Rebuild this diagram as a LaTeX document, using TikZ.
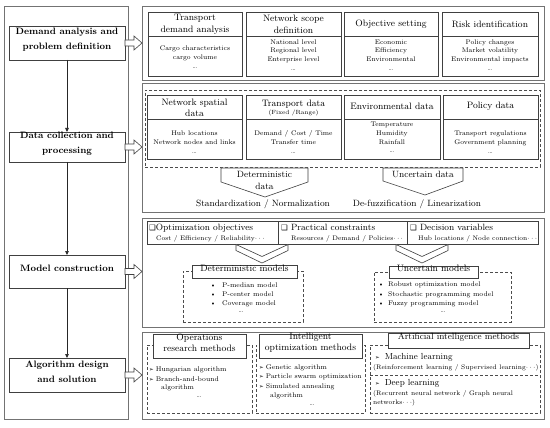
\documentclass[tikz,border=0pt]{standalone}
\usepackage{fontspec}
\newfontfamily\symfont{DejaVu Sans}
\usetikzlibrary{arrows.meta,calc,fit}
\newcommand\sqbox{{\symfont\fontsize{7.5}{8}\selectfont ❑}}
\newcommand\arrbul{{\symfont\fontsize{5.5}{6}\selectfont ➢}}
\tikzset{
  pnl/.style={draw=black!55, line width=0.8pt, inner sep=0pt, outer sep=0pt},
  lbox/.style={draw=black!75, line width=0.7pt, inner sep=0pt, outer sep=0pt, align=center,
    font=\fontsize{9.3}{14.5}\selectfont\bfseries},
  ibox/.style={draw=black!75, line width=0.6pt, inner sep=0pt, outer sep=0pt},
  sepline/.style={draw=black!75, line width=0.6pt},
  dbox/.style={draw=black!70, line width=0.6pt, dash pattern=on 3pt off 2pt, inner sep=0pt, outer sep=0pt},
  lab/.style={draw=black!75, fill=white, line width=0.6pt, inner sep=0pt, outer sep=0pt, align=center,
    font=\fontsize{9.3}{11.5}\selectfont},
  hd/.style={align=center, inner sep=0pt, font=\fontsize{9.3}{11.5}\selectfont},
  bd/.style={align=center, inner sep=0pt, font=\fontsize{6.7}{8.8}\selectfont},
  sm/.style={inner sep=0pt, anchor=west, font=\fontsize{6.6}{8.5}\selectfont},
  lst/.style={inner sep=0pt, anchor=west, font=\fontsize{6.8}{8.5}\selectfont},
  mid/.style={inner sep=0pt, font=\fontsize{9.1}{11}\selectfont},
  varr/.style={draw=black!85, line width=0.7pt, -{Triangle[length=4pt,width=3.5pt]}},
  blockarr/.style={draw=black!75, fill=white, line width=0.6pt, line join=miter},
  chev/.style={draw=black!75, fill=white, line width=0.6pt},
}
\begin{document}
\begin{tikzpicture}[x=1pt,y=-1pt]
\fill[white] (0,0) rectangle (550,428);
\useasboundingbox (0,0) rectangle (550,428);

% ---------- left column ----------
\node[pnl, fit={(4,6)(128,419)}] (LP) {};
\node[lbox, fit={(9,26)(125,60)}] (L1) {Demand analysis and\\problem definition};
\node[lbox, fit={(9,132)(125,162)}] (L2) {Data collection and\\processing};
\node[lbox, fit={(9,255)(125,288)}] (L3) {Model construction};
\node[lbox, fit={(9,358)(125,392)}] (L4) {Algorithm design\\and solution};
\draw[varr] (L1.south) -- (L2.north);
\draw[varr] (L2.south) -- (L3.north);
\draw[varr] (L3.south) -- (L4.north);

% ---------- right panels ----------
\node[pnl, fit={(142,6)(544,80)}] (P1) {};
\node[pnl, fit={(142,83)(544,212)}] (P2) {};
\node[pnl, fit={(142,218)(544,327)}] (P3) {};
\node[pnl, fit={(142,332)(544,419)}] (P4) {};

% block arrows
\foreach \L in {L1,L2,L3,L4}{
  \draw[blockarr] (\L.east) ++(0,-3) -- ++(9,0) -- ++(0,-4) -- ++(8,7) -- ++(-8,7) -- ++(0,-4) -- ++(-9,0) -- cycle;
}

% ---------- panel 1 ----------
\node[ibox, fit={(148,12)(242,76)}] (A1) {};
\node[ibox, fit={(246,12)(341,76)}] (A2) {};
\node[ibox, fit={(344,12)(438,76)}] (A3) {};
\node[ibox, fit={(442,12)(538,76)}] (A4) {};
\foreach \b in {A1,A2,A3,A4}{ \draw[sepline] (\b.west |- 0,36) -- (\b.east |- 0,36); }
\node[hd] (A1h) at (195,24.5) {Transport\\demand analysis};
\node[hd] (A2h) at (293.5,24.5) {Network scope\\definition};
\node[hd] (A3h) at (391,24) {Objective setting};
\node[hd] (A4h) at (490,24) {Risk identification};
\node[bd] (A1b) at (195,57) {Cargo characteristics\\cargo volume\\\dots};
\node[bd] (A2b) at (293.5,55) {National level\\Regional level\\Enterprise level\\\dots};
\node[bd] (A3b) at (391,55) {Economic\\Efficiency\\Environmental\\\dots};
\node[bd] (A4b) at (490,55) {Policy changes\\Market volatility\\Environmental impacts\\\dots};

% ---------- panel 2 ----------
\node[dbox, fit={(145,90)(540,167)}] (D0) {};
\node[ibox, fit={(147,95)(242,159)}] (B1) {};
\node[ibox, fit={(246,95)(341,159)}] (B2) {};
\node[ibox, fit={(344,95)(440,159)}] (B3) {};
\node[ibox, fit={(443,95)(538,159)}] (B4) {};
\foreach \b in {B1,B2,B3,B4}{ \draw[sepline] (\b.west |- 0,119) -- (\b.east |- 0,119); }
\node[hd] (B1h) at (194.5,108) {Network spatial\\data};
\node[hd] (B2h) at (293.5,104) {Transport data};
\node[inner sep=0pt, font=\fontsize{6}{7}\selectfont] (B2s) at (293.5,113.5) {(Fixed /Range)};
\node[hd] (B3h) at (392,106.5) {Environmental data};
\node[hd] (B4h) at (490.5,106.5) {Policy data};
\node[bd] (B1b) at (194.5,142) {Hub locations\\Network nodes and links\\\dots};
\node[bd] (B2b) at (293.5,142) {Demand / Cost / Time\\Transfer time\\\dots};
\node[bd] (B3b) at (392,137.5) {Temperature\\Humidity\\Rainfall\\\dots};
\node[bd] (B4b) at (490.5,142) {Transport regulations\\Government planning\\\dots};

\draw[chev] (221,168) -- (308,168) -- (308,182) -- (265,197) -- (221,182) -- cycle;
\draw[chev] (383,168) -- (463,168) -- (463,181) -- (425,195) -- (383,181) -- cycle;
\node[mid, align=center, font=\fontsize{9.1}{12}\selectfont] (DD) at (264.5,180) {Deterministic\\data};
\node[mid] (UD) at (423,174.5) {Uncertain data};
\node[mid] (SN) at (263,204.5) {Standardization / Normalization};
\node[mid] (DL) at (417,204.5) {De-fuzzification / Linearization};

% ---------- panel 3 ----------
\node[ibox, fit={(147,221)(278,244)}] (O1) {};
\node[ibox, fit={(278,221)(407,244)}] (O2) {};
\node[ibox, fit={(407,221)(538,244)}] (O3) {};
\node[mid, anchor=west] (O1t) at (149,228) {\sqbox Optimization objectives};
\node[sm] (O1s) at (156,239) {Cost / Efficiency / Reliability$\cdots$};
\node[mid, anchor=west] (O2t) at (281,228) {\sqbox\ Practical constraints};
\node[sm] (O2s) at (291,239) {Resources / Demand / Policies$\cdots$};
\node[mid, anchor=west] (O3t) at (410,228) {\sqbox\ Decision variables};
\node[sm] (O3s) at (418,239) {Hub locations / Node connection$\cdots$};

\draw[chev] (236,244.5) -- (262,256.5) -- (288,244.5) -- (288,250.5) -- (262,263) -- (236,250.5) -- cycle;
\draw[chev] (396,244.5) -- (422,256.5) -- (448,244.5) -- (448,250.5) -- (422,263) -- (396,250.5) -- cycle;

\node[dbox, fit={(183,271)(303,322)}] (DMB) {};
\node[lab, fit={(192,265)(297,278)}] (DM) {Deterministic models};
\node[lst] (DM1) at (210,285) {\textbullet\hspace{6pt}P-median model};
\node[lst] (DM2) at (210,294.5) {\textbullet\hspace{6pt}P-center model};
\node[lst] (DM3) at (210,304) {\textbullet\hspace{6pt}Coverage model};
\node[lst, anchor=center] (DM4) at (241,312) {\dots};

\node[dbox, fit={(374,272)(511,322)}] (UMB) {};
\node[lab, fit={(389,266)(478,278)}] (UM) {Uncertain models};
\node[lst] (UM1) at (378,285) {\textbullet\hspace{4pt}Robust optimization model};
\node[lst] (UM2) at (378,294.5) {\textbullet\hspace{4pt}Stochastic programming model};
\node[lst] (UM3) at (378,304) {\textbullet\hspace{4pt}Fuzzy programming model};
\node[lst, anchor=center] (UM4) at (443,312.5) {\dots};

% ---------- panel 4 ----------
\node[dbox, fit={(147,345)(252,413)}] (ORB) {};
\node[lab, fit={(153,334)(246,358)}] (OR) {Operations\\research methods};
\node[lst] (OR1) at (149,370) {\arrbul\hspace{2pt}Hungarian algorithm};
\node[lst] (OR2) at (149,379) {\arrbul\hspace{2pt}Branch-and-bound};
\node[lst] (OR3) at (161,388) {algorithm};
\node[lst, anchor=center] (OR4) at (199,397) {\dots};

\node[dbox, fit={(256,345)(365,413)}] (IOB) {};
\node[lab, fit={(259,334)(362,358)}] (IO) {Intelligent\\optimization methods};
\node[lst] (IO1) at (259,368) {\arrbul\hspace{2pt}Genetic algorithm};
\node[lst] (IO2) at (259,377) {\arrbul\hspace{2pt}Particle swarm optimization};
\node[lst] (IO3) at (259,386.5) {\arrbul\hspace{2pt}Simulated annealing};
\node[lst] (IO4) at (270,395.5) {algorithm};
\node[lst, anchor=center] (IO5) at (312,405) {\dots};

\node[dbox, fit={(370,345)(540,413)}] (AIB) {};
\draw[dbox] (AIB.west |- 0,375.5) -- (AIB.east |- 0,375.5);
\node[lab, fit={(388,333)(529,348)}, font=\fontsize{9}{11}\selectfont] (AI) {Artificial intelligence methods};
\node[sm] (AI1) at (375,357) {\arrbul\hspace{5pt}{\fontsize{8.8}{11}\selectfont Machine learning}};
\node[sm] (AI2) at (373,368) {(Reinforcement learning / Supervised learning$\cdots$)};
\node[sm] (AI3) at (375,383) {\arrbul\hspace{5pt}{\fontsize{8.8}{11}\selectfont Deep learning}};
\node[sm] (AI4) at (373,394) {(Recurrent neural network / Graph neural};
\node[sm] (AI5) at (373,403) {networks$\cdots$)};
\end{tikzpicture}
\end{document}
